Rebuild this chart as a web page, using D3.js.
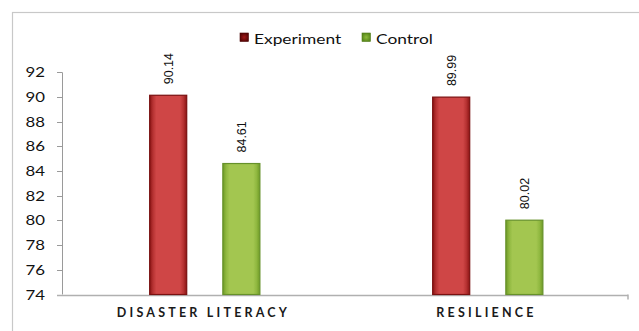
<!DOCTYPE html>
<html>
<head>
<meta charset="utf-8">
<script src="https://cdn.jsdelivr.net/npm/d3@7"></script>
<style>
  html, body { margin: 0; padding: 0; background: #fff; }
  svg { display: block; }
</style>
</head>
<body>
<svg id="chart" width="639" height="331"></svg>
<script>
// Mean scores by outcome and group
const categories = ["DISASTER LITERACY", "RESILIENCE"];
const series = ["Experiment", "Control"];
const experimentValues = [90.14, 89.99];
const controlValues = [84.61, 80.02];
const yTicks = [74, 76, 78, 80, 82, 84, 86, 88, 90, 92];

const rows = categories.map((c, i) => ({
  category: c,
  values: [
    { key: "Experiment", value: experimentValues[i] },
    { key: "Control", value: controlValues[i] }
  ]
}));

const svg = d3.select("#chart");
const W = 639, H = 331;
const plot = { left: 62, right: 628, top: 72.3, bottom: 294.5 };

// chart frame
svg.append("rect")
  .attr("x", 12.5).attr("y", 12.5)
  .attr("width", W).attr("height", H)
  .attr("fill", "#fff").attr("stroke", "#c8c8c8").attr("stroke-width", 1.2);

const defs = svg.append("defs");
function barGradient(id, edge, mid, fill) {
  const g = defs.append("linearGradient").attr("id", id)
    .attr("x1", 0).attr("x2", 1).attr("y1", 0).attr("y2", 0);
  g.append("stop").attr("offset", "0%").attr("stop-color", edge);
  g.append("stop").attr("offset", "9%").attr("stop-color", mid);
  g.append("stop").attr("offset", "18%").attr("stop-color", fill);
  g.append("stop").attr("offset", "82%").attr("stop-color", fill);
  g.append("stop").attr("offset", "91%").attr("stop-color", mid);
  g.append("stop").attr("offset", "100%").attr("stop-color", edge);
}
barGradient("gExp", "#8a1414", "#b63232", "#cf4646");
barGradient("gCtl", "#6f9a26", "#90b840", "#a3c650");

function legendGradient(id, edge, fill) {
  const g = defs.append("radialGradient").attr("id", id);
  g.append("stop").attr("offset", "0%").attr("stop-color", fill);
  g.append("stop").attr("offset", "100%").attr("stop-color", edge);
}
legendGradient("lExp", "#5a0505", "#a01818");
legendGradient("lCtl", "#5b8a1c", "#8dbb3a");

const color = { Experiment: { fill: "url(#gExp)", stroke: "#7a1010", legend: "url(#lExp)" },
                Control: { fill: "url(#gCtl)", stroke: "#66912a", legend: "url(#lCtl)" } };

const x0 = d3.scaleBand().domain(categories).range([plot.left, plot.right]).padding(0);
const bw = x0.bandwidth();
const x1 = d3.scaleBand().domain(series)
  .range([bw * 0.308, bw * 0.701]).paddingInner(0.48).paddingOuter(0);
const y = d3.scaleLinear().domain([74, 92]).range([plot.bottom, plot.top]);

const fontMain = "Lato, 'Open Sans', sans-serif";

// y axis
const yAxis = svg.append("g").attr("transform", `translate(${plot.left},0)`);
yAxis.append("line")
  .attr("x1", 0.5).attr("x2", 0.5).attr("y1", y(92)).attr("y2", y(74))
  .attr("stroke", "#9a9a9a").attr("stroke-width", 1);
yTicks.forEach(t => {
  yAxis.append("line")
    .attr("x1", -5).attr("x2", 0).attr("y1", Math.round(y(t)) + 0.5).attr("y2", Math.round(y(t)) + 0.5)
    .attr("stroke", "#9a9a9a");
  yAxis.append("text")
    .attr("transform", `translate(-17,${y(t) + 5}) scale(1.2,1)`)
    .attr("text-anchor", "end")
    .attr("font-family", fontMain).attr("font-size", 14)
    .attr("fill", "#111")
    .text(t);
});

// x baseline
svg.append("line")
  .attr("x1", plot.left - 5).attr("x2", plot.right)
  .attr("y1", Math.round(y(74)) + 0.5).attr("y2", Math.round(y(74)) + 0.5)
  .attr("stroke", "#b0b0b0").attr("stroke-width", 1.5);
svg.append("line")
  .attr("x1", plot.right).attr("x2", plot.right)
  .attr("y1", y(74)).attr("y2", y(74) + 5)
  .attr("stroke", "#b0b0b0").attr("stroke-width", 1.5);

// bars
const groups = svg.selectAll("g.cat").data(rows).join("g")
  .attr("class", "cat")
  .attr("transform", d => `translate(${x0(d.category)},0)`);

groups.selectAll("rect").data(d => d.values).join("rect")
  .attr("x", d => x1(d.key) + 0.5)
  .attr("y", d => y(d.value))
  .attr("width", x1.bandwidth() - 1)
  .attr("height", d => y(74) - y(d.value))
  .attr("fill", d => color[d.key].fill)
  .attr("stroke", d => color[d.key].stroke)
  .attr("stroke-width", 1.2);

// value labels, rotated
groups.selectAll("text.val").data(d => d.values).join("text")
  .attr("class", "val")
  .attr("transform", d => `translate(${x1(d.key) + x1.bandwidth() / 2 + 4.5},${y(d.value) - 11}) rotate(-90)`)
  .attr("text-anchor", "start")
  .attr("font-family", "'Liberation Sans', Arial, sans-serif")
  .attr("font-size", 12.5)
  .attr("fill", "#111")
  .text(d => d.value.toFixed(2));

// category labels
svg.selectAll("text.cat").data(categories).join("text")
  .attr("class", "cat")
  .attr("x", d => x0(d) + bw / 2)
  .attr("y", 317)
  .attr("text-anchor", "middle")
  .attr("font-family", fontMain).attr("font-size", 12.5).attr("font-weight", "bold")
  .attr("letter-spacing", "3.2px")
  .attr("fill", "#1a1a1a")
  .text(d => d);

// legend
const legendX = [240, 362];
const legend = svg.selectAll("g.leg").data(series).join("g")
  .attr("class", "leg")
  .attr("transform", (d, i) => `translate(${legendX[i]},33)`);
legend.append("rect")
  .attr("width", 8.5).attr("height", 8.5)
  .attr("fill", d => color[d].legend)
  .attr("stroke", d => d === "Experiment" ? "#4a0404" : "#4f7a18").attr("stroke-width", 0.6);
legend.append("text")
  .attr("transform", "translate(14,11) scale(1.24,1)")
  .attr("font-family", fontMain).attr("font-size", 14)
  .attr("fill", "#111")
  .text(d => d);
</script>
</body>
</html>
